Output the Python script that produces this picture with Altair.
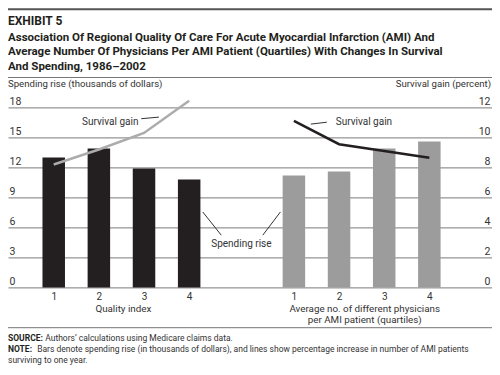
import altair as alt
import pandas as pd

# ---------------- data ----------------
quartiles = [1, 2, 3, 4]
quality_spending = [13.0, 13.9, 11.9, 10.8]      # thousands of dollars
quality_survival = [8.2, 9.2, 10.3, 12.45]       # percent
phys_spending = [11.2, 11.6, 13.9, 14.6]
phys_survival = [11.1, 9.55, 9.1, 8.65]

group_keys = ["quality", "phys"]
exhibit = "EXHIBIT 5"
title_lines = [
    "Association Of Regional Quality Of Care For Acute Myocardial Infarction (AMI) And",
    "Average Number Of Physicians Per AMI Patient (Quartiles) With Changes In Survival",
    "And Spending, 1986\u20132002",
]
left_axis_title = "Spending rise (thousands of dollars)"
right_axis_title = "Survival gain (percent)"
quality_title = ["Quality index"]
phys_title = ["Average no. of different physicians", "per AMI patient (quartiles)"]
source_label, source_text = "SOURCE:", "Authors\u2019 calculations using Medicare claims data."
note_label = "NOTE:"
note_lines = [
    "Bars denote spending rise (in thousands of dollars), and lines show percentage increase in number of AMI patients",
    "surviving to one year.",
]

# ---------------- layout ----------------
FONT = "Liberation Sans Narrow, Roboto, sans-serif"
W, H = 484, 180.2
TOP = 99.4
GROUP_OFFSET = {"quality": 0.0, "phys": 5.32}
X_DOMAIN = [0.098, 10.597]
DARK = "#231f20"
TXT = "#333333"

rows = []
for g, sp, sv in [("quality", quality_spending, quality_survival),
                  ("phys", phys_spending, phys_survival)]:
    for q, s, v in zip(quartiles, sp, sv):
        rows.append({"group": g, "q": q, "pos": q + GROUP_OFFSET[g], "spending": s, "survival": v})
df = pd.DataFrame(rows)

tick_vals = [q + GROUP_OFFSET[g] for g in group_keys for q in quartiles]
x_scale = alt.Scale(domain=X_DOMAIN, nice=False, zero=False)
x_axis = alt.Axis(values=tick_vals, labelExpr="toString(round(datum.value > 5 ? datum.value - 5.32 : datum.value))",
                  domain=False, ticks=False, tickSize=0, grid=False, labelPadding=4, title=None,
                  labelFontSize=10, labelColor=TXT, labelFont=FONT)
y_spend_scale = alt.Scale(domain=[0, 18], nice=False, zero=True)
y_spend_axis = alt.Axis(orient="left", values=[0, 3, 6, 9, 12, 15, 18], grid=True, gridColor="#7a7a7a",
                        gridWidth=1, domain=False, ticks=False, tickSize=0, labelAlign="left",
                        labelBaseline="alphabetic", labelPadding=-1, labelOffset=-3, title=None,
                        labelFontSize=10.5, labelColor=TXT, labelFont=FONT)
y_surv_scale = alt.Scale(domain=[0, 12], nice=False, zero=True)
y_surv_axis = alt.Axis(orient="right", values=[0, 2, 4, 6, 8, 10, 12], grid=False, domain=False, ticks=False,
                       tickSize=0, labelAlign="right", labelBaseline="alphabetic", labelPadding=-2,
                       labelOffset=-3, title=None, labelFontSize=10.5, labelColor=TXT, labelFont=FONT)


def X(field):
    return alt.X(field, scale=x_scale, axis=x_axis, title=None)


def YS(field):
    return alt.Y(field, scale=y_spend_scale, axis=y_spend_axis, title=None)


bars = alt.Chart(df).mark_bar(size=22.5).encode(
    x=X("pos:Q"),
    y=YS("spending:Q"),
    color=alt.Color("group:N", scale=alt.Scale(domain=group_keys, range=[DARK, "#9c9c9c"]), legend=None),
)

lines = alt.Chart(df).mark_line(strokeWidth=2.5).encode(
    x=X("pos:Q"),
    y=alt.Y("survival:Q", scale=y_surv_scale, axis=y_surv_axis, title=None),
    stroke=alt.Stroke("group:N", scale=alt.Scale(domain=group_keys, range=["#acacac", DARK]), legend=None),
)

# annotations (data coordinates: x position, spending units)
ann_rules_df = pd.DataFrame({
    "k": [2.939, 6.694, 4.300, 5.631],
    "k2": [3.329, 7.049, 4.711, 6.022],
    "s": [16.87, 16.33, 7.56, 5.24],
    "s2": [17.03, 16.52, 5.24, 7.56],
})
ann_rules = alt.Chart(ann_rules_df).mark_rule(color="#333333", strokeWidth=1).encode(
    x=X("k:Q"), x2="k2:Q", y=YS("s:Q"), y2="s2:Q")

ann_left_df = pd.DataFrame({"t": ["Survival gain", "Survival gain"], "k": [1.628, 7.247], "s": [16.26, 16.22]})
ann_left = alt.Chart(ann_left_df).mark_text(align="left", baseline="alphabetic", font=FONT, fontSize=10,
                                            color=TXT).encode(x=X("k:Q"), y=YS("s:Q"), text="t:N")
ann_mid_df = pd.DataFrame({"t": ["Spending rise"], "k": [5.157], "s": [4.02]})
ann_mid = alt.Chart(ann_mid_df).mark_text(align="center", baseline="alphabetic", font=FONT, fontSize=10,
                                          color=TXT).encode(x=X("k:Q"), y=YS("s:Q"), text="t:N")

xt_df = pd.DataFrame({
    "t": quality_title + phys_title,
    "k": [2.542, 7.889, 7.889],
    "yy": [204.1, 204.1, 215.7],
})
xtitles = alt.Chart(xt_df).mark_text(align="center", baseline="alphabetic", font=FONT, fontSize=9.8,
                                     color=TXT).encode(x=X("k:Q"), y=alt.Y("yy:Q", scale=None), text="t:N")


def deco_rule(y, w, color):
    return alt.Chart(alt.Data(values=[{"a": 1}])).mark_rule(color=color, strokeWidth=w).encode(
        x=alt.value(0), x2=alt.value(W), y=alt.value(y))


def deco_text(txt, x, y, size, bold=False, align="left", color=TXT):
    return alt.Chart(alt.Data(values=[{"t": txt}])).mark_text(
        align=align, baseline="alphabetic", fontSize=size, fontWeight="bold" if bold else "normal",
        font=FONT, color=color).encode(x=alt.value(x), y=alt.value(y), text="t:N")


decos = [
    deco_rule(-98.1, 2, "#555555"),
    deco_rule(-29.9, 1, "#777777"),
    deco_rule(220.3, 1, "#777777"),
    deco_text(exhibit, 0, -82.7, 12, bold=True, color=DARK),
    deco_text(title_lines[0], 0, -66.9, 11.5, bold=True, color=DARK),
    deco_text(title_lines[1], 0, -52.4, 11.5, bold=True, color=DARK),
    deco_text(title_lines[2], 0, -37.6, 11.5, bold=True, color=DARK),
    deco_text(left_axis_title, 0, -20.3, 9.6),
    deco_text(right_axis_title, W - 1, -20.3, 9.6, align="right"),
    deco_text(source_label, 0, 233.5, 8.5, bold=True, color=DARK),
    deco_text(source_text, 37.2, 233.5, 8.5),
    deco_text(note_label, 0, 244.6, 8.5, bold=True, color=DARK),
    deco_text(note_lines[0], 29.2, 244.6, 8.5),
    deco_text(note_lines[1], 0, 255.7, 8.5),
]

spend_layer = alt.layer(bars, ann_rules, ann_left, ann_mid, xtitles, *decos)
surv_layer = alt.layer(lines)

chart = alt.layer(spend_layer, surv_layer).resolve_scale(y="independent").properties(
    width=W, height=H,
    padding={"left": 0, "top": TOP, "right": 0, "bottom": 359 - TOP - H},
    autosize=alt.AutoSizeParams(type="none"),
).configure_view(stroke=None)

chart.save("out.html", embed_options={"renderer": "svg", "actions": False})
